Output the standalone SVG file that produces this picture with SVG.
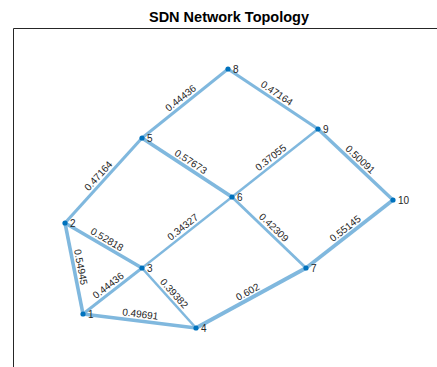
<svg xmlns="http://www.w3.org/2000/svg" width="437" height="367" viewBox="0 0 437 367">
  <style>
    .title { font-family: "Liberation Sans", Arial, sans-serif; font-size: 14.5px; font-weight: bold; fill: #000; }
    .edge { stroke: #80b8de; stroke-linecap: butt; fill: none; }
    .elabel { font-family: "Liberation Sans", Arial, sans-serif; font-size: 10px; fill: #262626; text-anchor: middle; }
    .node circle { fill: #0072bd; }
    .node text { font-family: "Liberation Sans", Arial, sans-serif; font-size: 10px; fill: #262626; }
    .axes { stroke: #262626; stroke-width: 1; fill: none; }
  </style>

  <rect x="0" y="0" width="437" height="367" fill="#ffffff"/>

  <!-- title and axes frame -->
  <text class="title" x="229" y="22" text-anchor="middle">SDN Network Topology</text>
  <path class="axes" d="M13.5 367 V28.5 H437"/>

  <!-- connectors: line width scales with edge weight -->
  <g id="connectors">
    <line class="edge" x1="83" y1="314" x2="65" y2="223" stroke-width="3.63"/>
    <line class="edge" x1="83" y1="314" x2="142" y2="268" stroke-width="2.93"/>
    <line class="edge" x1="83" y1="314" x2="196" y2="328" stroke-width="3.28"/>
    <line class="edge" x1="65" y1="223" x2="142" y2="268" stroke-width="3.49"/>
    <line class="edge" x1="65" y1="223" x2="142" y2="138" stroke-width="3.11"/>
    <line class="edge" x1="142" y1="268" x2="196" y2="328" stroke-width="2.60"/>
    <line class="edge" x1="142" y1="268" x2="232" y2="197" stroke-width="2.27"/>
    <line class="edge" x1="142" y1="138" x2="228" y2="69" stroke-width="2.93"/>
    <line class="edge" x1="142" y1="138" x2="232" y2="197" stroke-width="3.81"/>
    <line class="edge" x1="232" y1="197" x2="318" y2="129" stroke-width="2.45"/>
    <line class="edge" x1="232" y1="197" x2="306" y2="268" stroke-width="2.79"/>
    <line class="edge" x1="228" y1="69" x2="318" y2="129" stroke-width="3.11"/>
    <line class="edge" x1="318" y1="129" x2="393" y2="200" stroke-width="3.31"/>
    <line class="edge" x1="196" y1="328" x2="306" y2="268" stroke-width="3.97"/>
    <line class="edge" x1="306" y1="268" x2="393" y2="200" stroke-width="3.64"/>

    <!-- edge weights, drawn along each edge -->
    <g id="edge-labels">
      <text class="elabel" transform="translate(74,268.5) rotate(78.8)" y="-3.5">0.54945</text>
      <text class="elabel" transform="translate(112.5,291) rotate(-37.9)" y="-3.5">0.44436</text>
      <text class="elabel" transform="translate(139.5,321) rotate(7.1)" y="-3.5">0.49691</text>
      <text class="elabel" transform="translate(103.5,245.5) rotate(30.3)" y="-3.5">0.52818</text>
      <text class="elabel" transform="translate(103.5,180.5) rotate(-47.8)" y="-3.5">0.47164</text>
      <text class="elabel" transform="translate(169,298) rotate(48)" y="-3.5">0.39382</text>
      <text class="elabel" transform="translate(187,232.5) rotate(-38.3)" y="-3.5">0.34327</text>
      <text class="elabel" transform="translate(185,103.5) rotate(-38.7)" y="-3.5">0.44436</text>
      <text class="elabel" transform="translate(187,167.5) rotate(33.2)" y="-3.5">0.57673</text>
      <text class="elabel" transform="translate(275,163) rotate(-38.3)" y="-3.5">0.37055</text>
      <text class="elabel" transform="translate(269,232.5) rotate(43.8)" y="-3.5">0.42309</text>
      <text class="elabel" transform="translate(273,99) rotate(33.7)" y="-3.5">0.47164</text>
      <text class="elabel" transform="translate(355.5,164.5) rotate(43.4)" y="-3.5">0.50091</text>
      <text class="elabel" transform="translate(251,298) rotate(-28.6)" y="-3.5">0.602</text>
      <text class="elabel" transform="translate(349.5,234) rotate(-38)" y="-3.5">0.55145</text>
    </g>
  </g>

  <!-- nodes -->
  <g id="node-1" class="node"><circle cx="83" cy="314" r="2.6"/><text x="88" y="318">1</text></g>
  <g id="node-2" class="node"><circle cx="65" cy="223" r="2.6"/><text x="70" y="227">2</text></g>
  <g id="node-3" class="node"><circle cx="142" cy="268" r="2.6"/><text x="147" y="272">3</text></g>
  <g id="node-4" class="node"><circle cx="196" cy="328" r="2.6"/><text x="201" y="332">4</text></g>
  <g id="node-5" class="node"><circle cx="142" cy="138" r="2.6"/><text x="147" y="142">5</text></g>
  <g id="node-6" class="node"><circle cx="232" cy="197" r="2.6"/><text x="237" y="201">6</text></g>
  <g id="node-7" class="node"><circle cx="306" cy="268" r="2.6"/><text x="311" y="272">7</text></g>
  <g id="node-8" class="node"><circle cx="228" cy="69" r="2.6"/><text x="233" y="73">8</text></g>
  <g id="node-9" class="node"><circle cx="318" cy="129" r="2.6"/><text x="323" y="133">9</text></g>
  <g id="node-10" class="node"><circle cx="393" cy="200" r="2.6"/><text x="398" y="204">10</text></g>
</svg>
